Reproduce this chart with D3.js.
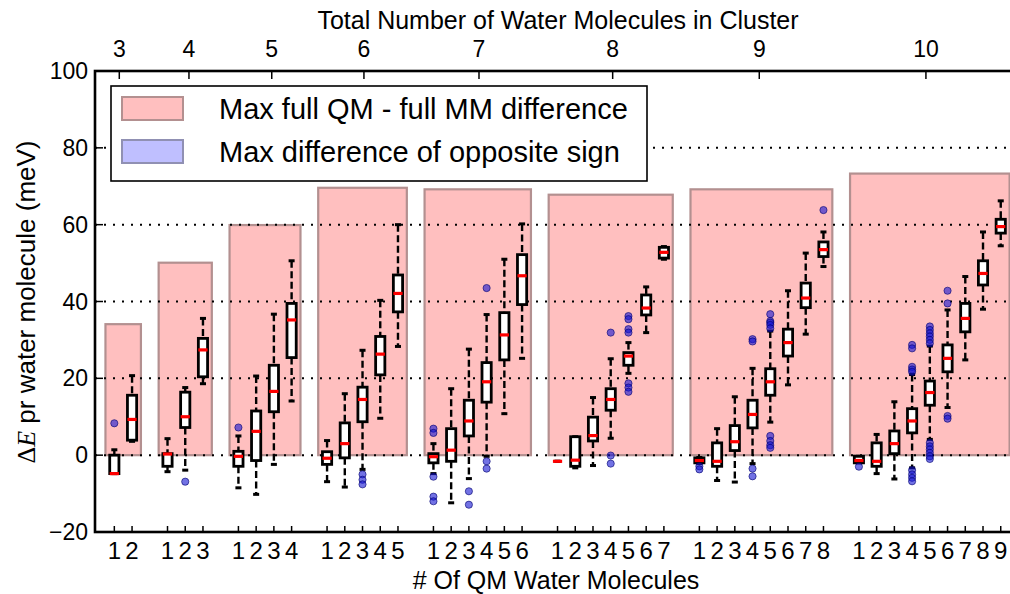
<!DOCTYPE html>
<html>
<head>
<meta charset="utf-8">
<script src="https://cdn.jsdelivr.net/npm/d3@7"></script>
<style>
  body { margin: 0; background: #fff; }
  svg { display: block; font-family: "Liberation Sans", Arial, Helvetica, sans-serif; }
</style>
</head>
<body>
<div id="chart"></div>
<script>
// cluster sizes (top axis) and where their labels sit, in box-slot units
const clusterSizes = [3, 4, 5, 6, 7, 8, 9, 10]
const clusterTickPos = [0.28, 4.21, 8.88, 14.08, 20.57, 28.11, 36.38, 45.78]
// max full QM - full MM difference per cluster (pink bars)
const maxDiff = [34.1, 50.1, 59.9, 69.6, 69.2, 67.8, 69.2, 73.3]

// box statistics, one entry per (cluster, #QM) in reading order
const whiskerLow = [
  -4.8, 3.6,
  -4.3, -3.9, 18.6,
  -8.5, -10.2, -2.4, 14.1,
  -6.9, -8.3, -3.7, 9.6, 28.3,
  -4.8, -12.4, -6.1, -0.3, 10.8, 25.2,
  -1.6, -3.3, -2.7, 4.4, 21.3, 31.9, 51.0,
  -2.2, -6.6, -7.0, -2.2, 8.6, 18.3, 31.5, 49.1,
  -2.0, -4.8, -6.2, -3.3, 4.1, 12.4, 24.8, 38.0, 54.5
]
const q1 = [
  -4.8, 3.9,
  -2.9, 7.2, 20.4,
  -2.9, -1.4, 11.3, 25.4,
  -2.4, -0.7, 8.7, 20.9, 37.3,
  -2.0, -1.6, 5.0, 13.8, 24.8, 39.2,
  -1.6, -2.9, 3.7, 11.7, 23.4, 36.5, 51.3,
  -2.0, -2.9, 1.2, 7.1, 15.6, 25.8, 38.4, 51.7,
  -2.0, -2.9, 0.4, 5.8, 13.0, 21.7, 32.1, 44.3, 57.8
]
const median = [
  -4.8, 9.3,
  0.3, 10.0, 27.4,
  -0.3, 6.2, 16.6, 35.2,
  -0.8, 3.0, 14.5, 26.3, 42.1,
  -0.4, 1.3, 8.9, 19.1, 31.3, 46.7,
  -1.6, -1.3, 5.1, 14.5, 25.8, 38.3, 52.8,
  -1.4, -1.6, 3.5, 10.6, 19.1, 29.3, 40.9, 53.5,
  -1.4, -1.6, 3.0, 8.9, 16.3, 25.2, 35.6, 47.3, 59.5
]
const q3 = [
  0.0, 15.6,
  0.4, 16.4, 30.4,
  1.0, 11.5, 23.4, 39.5,
  0.9, 8.4, 17.7, 30.9, 46.9,
  0.4, 6.9, 14.3, 24.1, 37.1, 52.2,
  -1.6, 4.8, 9.9, 17.3, 26.7, 41.7, 54.1,
  -0.7, 3.2, 7.7, 14.3, 22.5, 32.8, 44.8, 55.5,
  -0.3, 3.2, 6.3, 12.1, 19.3, 28.7, 39.5, 50.6, 61.4
]
const whiskerHigh = [
  1.4, 20.7,
  4.3, 17.6, 35.6,
  5.0, 20.6, 36.7, 50.6,
  3.8, 16.0, 27.3, 40.3, 60.0,
  3.0, 17.3, 27.6, 36.6, 51.0, 60.2,
  -1.6, 4.8, 15.0, 25.1, 29.3, 43.8, 54.3,
  -0.6, 6.9, 15.2, 22.6, 32.3, 42.8, 52.6, 58.1,
  -0.3, 5.4, 13.9, 21.0, 28.4, 37.8, 46.5, 58.1, 66.2
]
const outliers = [
  [8.3], [],
  [], [-6.9], [],
  [7.2], [], [], [],
  [], [], [-5.0, -6.4, -7.6], [], [],
  [6.9, 5.8, -5.6, -10.8, -12.0], [], [-9.4, -12.9], [43.5, -1.6, -3.5], [], [],
  [], [], [], [31.9, -0.1, -2.2], [36.2, 35.4, 32.8, 31.9, 18.7, 17.6, 16.5], [], [],
  [-2.9, -3.7], [], [], [30.2, 29.6, -3.5, -5.5], [36.7, 34.9, 34.5, 33.9, 33.0, 5.0, 3.7, 2.6, 1.9], [], [], [63.8],
  [-3.0], [], [], [28.7, 27.8, 23.0, 22.3, 21.7, -3.9, -5.0, -5.9, -6.8],
  [33.5, 32.6, 31.7, 30.9, 30.0, 29.1, 3.2, 2.3, 1.5, 0.6, -0.3, -1.0], [42.8, 39.5, 10.2, 9.5], [], [], []
]

const yTicks = [-20, 0, 20, 40, 60, 80, 100]
const legendLabels = ["Max full QM - full MM difference", "Max difference of opposite sign"]

const width = 1010, height = 594
const margin = { top: 71, right: -9, bottom: 62, left: 95 }

// build box records: slot index = running position with one empty slot between clusters
let boxes = []
let groups = []
let slot = 0
clusterSizes.forEach((n, g) => {
  const first = slot
  for (let k = 1; k < n; k++) {
    const i = boxes.length
    boxes.push({
      pos: slot, k: k,
      lo: whiskerLow[i], q1: q1[i], med: median[i], q3: q3[i], hi: whiskerHigh[i],
      out: outliers[i]
    })
    slot++
  }
  groups.push({ n: n, first: first, last: slot - 1, max: maxDiff[g], tick: clusterTickPos[g] })
  slot++
})

const svg = d3.select("#chart").append("svg")
  .attr("width", width)
  .attr("height", height)

const x = d3.scaleLinear()
  .domain([-1.09, 51.03])
  .range([margin.left, width - margin.right])
const y = d3.scaleLinear()
  .domain([-20, 100])
  .range([height - margin.bottom, margin.top])

const plot = svg.append("g")

// pink bars
plot.selectAll("rect.maxdiff")
  .data(groups)
  .enter().append("rect")
  .attr("class", "maxdiff")
  .attr("x", d => x(d.first - 0.5))
  .attr("y", d => y(d.max))
  .attr("width", d => x(d.last + 0.5) - x(d.first - 0.5))
  .attr("height", d => y(0) - y(d.max))
  .attr("fill", "#ffbfbf")
  .attr("stroke", "#b39090")
  .attr("stroke-width", 2.2)

// dotted grid
plot.selectAll("line.grid")
  .data(yTicks.filter(t => t > -20 && t < 100))
  .enter().append("line")
  .attr("class", "grid")
  .attr("x1", x.range()[0]).attr("x2", x.range()[1])
  .attr("y1", d => y(d)).attr("y2", d => y(d))
  .attr("stroke", "#000")
  .attr("stroke-width", 2)
  .attr("stroke-dasharray", "2,7")

// boxplots
const bw = 0.52, cw = 0.34
const bx = plot.selectAll("g.box")
  .data(boxes)
  .enter().append("g")
  .attr("class", "box")

bx.append("line")
  .attr("x1", d => x(d.pos)).attr("x2", d => x(d.pos))
  .attr("y1", d => y(d.hi)).attr("y2", d => y(d.q3))
  .attr("stroke", "#000").attr("stroke-width", 2.4).attr("stroke-dasharray", "7,3.5")
bx.append("line")
  .attr("x1", d => x(d.pos)).attr("x2", d => x(d.pos))
  .attr("y1", d => y(d.q1)).attr("y2", d => y(d.lo))
  .attr("stroke", "#000").attr("stroke-width", 2.4).attr("stroke-dasharray", "7,3.5")
bx.selectAll("line.cap")
  .data(d => [d.lo, d.hi].map(v => ({ pos: d.pos, v: v })))
  .enter().append("line")
  .attr("class", "cap")
  .attr("x1", d => x(d.pos - cw / 2)).attr("x2", d => x(d.pos + cw / 2))
  .attr("y1", d => y(d.v)).attr("y2", d => y(d.v))
  .attr("stroke", "#000").attr("stroke-width", 3)
bx.append("rect")
  .attr("x", d => x(d.pos - bw / 2))
  .attr("y", d => y(d.q3))
  .attr("width", d => x(d.pos + bw / 2) - x(d.pos - bw / 2))
  .attr("height", d => y(d.q1) - y(d.q3))
  .attr("fill", "#fff")
  .attr("stroke", "#000")
  .attr("stroke-width", 2.8)
bx.append("line")
  .attr("x1", d => x(d.pos - bw / 2)).attr("x2", d => x(d.pos + bw / 2))
  .attr("y1", d => y(d.med)).attr("y2", d => y(d.med))
  .attr("stroke", "#ff0000").attr("stroke-width", 3.2)
bx.selectAll("circle")
  .data(d => d.out.map(v => ({ pos: d.pos, v: v })))
  .enter().append("circle")
  .attr("cx", d => x(d.pos))
  .attr("cy", d => y(d.v))
  .attr("r", 3.6)
  .attr("fill", "rgba(20,20,210,0.6)")
  .attr("stroke", "rgba(0,0,110,0.6)")
  .attr("stroke-width", 1)

// spines
const x0 = x.range()[0], x1 = x.range()[1], y0 = y.range()[0], y1 = y.range()[1]
svg.append("rect")
  .attr("x", x0).attr("y", y1)
  .attr("width", x1 - x0).attr("height", y0 - y1)
  .attr("fill", "none").attr("stroke", "#000").attr("stroke-width", 2.6)

// left axis: inward ticks
svg.selectAll("line.ytick")
  .data(yTicks)
  .enter().append("line")
  .attr("x1", x0).attr("x2", x0 + 8)
  .attr("y1", d => y(d)).attr("y2", d => y(d))
  .attr("stroke", "#000").attr("stroke-width", 1.5)
svg.selectAll("text.ylab")
  .data(yTicks)
  .enter().append("text")
  .attr("x", 88)
  .attr("y", d => y(d) + 8)
  .attr("text-anchor", "end")
  .attr("font-size", 23)
  .text(d => d < 0 ? "\u2212" + Math.abs(d) : d)

// bottom axis: ticks at each box
svg.selectAll("line.xtick")
  .data(boxes)
  .enter().append("line")
  .attr("x1", d => x(d.pos)).attr("x2", d => x(d.pos))
  .attr("y1", y0).attr("y2", y0 - 6)
  .attr("stroke", "#000").attr("stroke-width", 1.5)
svg.selectAll("text.xlab")
  .data(boxes)
  .enter().append("text")
  .attr("x", d => x(d.pos))
  .attr("y", 559)
  .attr("text-anchor", "middle")
  .attr("font-size", 24)
  .text(d => d.k)

// top axis: cluster size
svg.selectAll("line.ttick")
  .data(groups)
  .enter().append("line")
  .attr("x1", d => x(d.tick)).attr("x2", d => x(d.tick))
  .attr("y1", y1).attr("y2", y1 + 8)
  .attr("stroke", "#000").attr("stroke-width", 1.5)
svg.selectAll("text.tlab")
  .data(groups)
  .enter().append("text")
  .attr("x", d => x(d.tick))
  .attr("y", 57)
  .attr("text-anchor", "middle")
  .attr("font-size", 23)
  .text(d => d.n)

// axis titles
svg.append("text")
  .attr("x", 558).attr("y", 29)
  .attr("text-anchor", "middle")
  .attr("font-size", 25)
  .text("Total Number of Water Molecules in Cluster")
svg.append("text")
  .attr("x", 556).attr("y", 589)
  .attr("text-anchor", "middle")
  .attr("font-size", 25)
  .text("# Of QM Water Molecules")

const ylab = svg.append("text")
  .attr("transform", "translate(35,302) rotate(-90)")
  .attr("text-anchor", "middle")
  .attr("font-size", 26)
ylab.append("tspan").attr("font-family", "'Liberation Serif', serif").text("\u0394")
ylab.append("tspan").attr("font-family", "'Liberation Serif', serif").attr("font-style", "italic").text("E")
ylab.append("tspan").text(" pr water molecule (meV)")

// legend
const legend = svg.append("g")
legend.append("rect")
  .attr("x", 111).attr("y", 86)
  .attr("width", 536).attr("height", 95)
  .attr("fill", "#fff").attr("stroke", "#000").attr("stroke-width", 1.6)
const legendColors = [["#ffbfbf", "#b39090"], ["#bfbfff", "#9090b3"]]
legendLabels.forEach((t, i) => {
  legend.append("rect")
    .attr("x", 122).attr("y", 97 + i * 43)
    .attr("width", 61).attr("height", 23)
    .attr("fill", legendColors[i][0])
    .attr("stroke", legendColors[i][1])
    .attr("stroke-width", 2)
  legend.append("text")
    .attr("x", 219).attr("y", 118.5 + i * 43)
    .attr("font-size", 29)
    .text(t)
})
</script>
</body>
</html>
